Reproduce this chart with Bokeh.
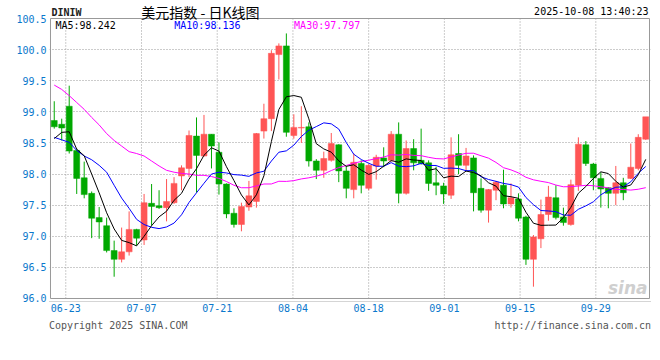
from bokeh.plotting import figure
from bokeh.models import (ColumnDataSource, FixedTicker, Label, Range1d,
                          PrintfTickFormatter)
from bokeh.embed import file_html
from bokeh.resources import INLINE

# ---------------- data ----------------
opens = [98.86, 98.80, 99.09, 98.38, 97.94, 97.69, 97.30, 97.17, 96.77, 96.63,
         96.75, 97.11, 96.94, 97.53, 97.49, 97.46, 97.54, 97.97, 98.09, 98.61,
         98.29, 98.64, 98.35, 97.84, 97.37, 97.19, 97.47, 97.56, 98.69, 98.89,
         99.92, 100.06, 98.62, 98.74, 98.76, 98.21, 98.06, 98.22, 98.47, 98.05,
         97.75, 98.17, 97.77, 98.13, 98.26, 98.22, 98.64, 97.69, 98.41, 98.22,
         98.18, 97.86, 97.81, 97.66, 98.33, 98.14, 98.26, 97.77, 97.42, 97.74,
         97.82, 97.52, 97.60, 97.31, 96.63, 96.96, 97.35, 97.62, 97.31, 97.19,
         97.82, 98.47, 98.16, 97.93, 97.78, 97.69, 97.86, 97.93, 98.09, 98.56]
highs = [99.17, 98.89, 99.42, 98.41, 98.20, 97.72, 97.47, 97.30, 96.93, 97.14,
         97.40, 97.12, 97.68, 97.84, 97.74, 97.92, 97.95, 98.14, 98.70, 98.91,
         98.95, 98.64, 98.51, 97.85, 97.45, 97.54, 97.89, 98.66, 99.13, 99.99,
         100.10, 100.26, 98.96, 99.09, 98.83, 98.24, 98.36, 98.66, 98.48, 98.13,
         98.33, 98.22, 98.16, 98.31, 98.43, 98.69, 98.83, 98.54, 98.56, 98.73,
         98.22, 98.12, 97.86, 98.59, 98.64, 98.42, 98.30, 97.93, 97.76, 97.89,
         98.07, 97.85, 97.69, 97.33, 97.02, 97.59, 97.81, 97.82, 97.46, 97.91,
         98.59, 98.53, 98.18, 98.03, 97.79, 98.13, 97.94, 98.49, 98.64, 98.91]
lows = [98.73, 98.54, 98.33, 97.68, 97.61, 96.97, 96.96, 96.74, 96.35, 96.58,
        96.69, 96.85, 96.86, 97.17, 97.44, 97.24, 97.52, 97.74, 97.95, 97.70,
        98.28, 98.09, 97.67, 97.29, 97.14, 97.08, 97.41, 97.46, 98.57, 98.69,
        99.52, 98.60, 98.57, 98.50, 98.12, 97.92, 97.94, 98.20, 97.87, 97.61,
        97.61, 97.69, 97.74, 97.91, 98.11, 98.20, 97.53, 97.67, 98.06, 98.15,
        97.73, 97.66, 97.52, 97.60, 98.00, 98.06, 97.40, 97.38, 97.22, 97.58,
        97.45, 97.46, 97.24, 96.54, 96.19, 96.81, 97.25, 97.27, 97.17, 97.17,
        97.73, 98.13, 97.74, 97.46, 97.45, 97.50, 97.58, 97.92, 98.06, 98.55]
closes = [98.76, 98.74, 98.37, 97.93, 97.67, 97.29, 97.23, 96.77, 96.63, 96.75,
          97.11, 96.97, 97.54, 97.48, 97.46, 97.56, 97.85, 98.10, 98.62, 98.30,
          98.64, 98.45, 97.84, 97.36, 97.19, 97.48, 97.65, 98.65, 98.89, 99.94,
          100.06, 98.67, 98.75, 98.75, 98.21, 98.06, 98.25, 98.49, 98.05, 97.77,
          98.19, 97.82, 98.14, 98.27, 98.21, 98.64, 97.69, 98.41, 98.18, 98.17,
          97.85, 97.82, 97.68, 98.31, 98.14, 98.29, 97.70, 97.42, 97.75, 97.87,
          97.52, 97.62, 97.29, 96.63, 96.99, 97.35, 97.63, 97.30, 97.22, 97.83,
          98.48, 98.17, 97.94, 97.76, 97.69, 97.86, 97.70, 98.11, 98.59, 98.92]

ma5_head = [98.57, 98.67, 98.68, 98.40]
ma10_head = [98.59, 98.55, 98.51, 98.38, 98.29, 98.23, 98.14, 98.03, 97.82]
ma30_head = [99.43, 99.36, 99.26, 99.15, 99.04, 98.91, 98.79, 98.65, 98.54, 98.45,
             98.36, 98.33, 98.29, 98.21, 98.13, 98.06, 98.03, 98.01, 98.00, 97.98,
             97.98, 97.96, 97.93, 97.88, 97.82, 97.78, 97.78, 97.81, 97.84]

tick_labels = ["06-23", "07-07", "07-21", "08-04", "08-18", "09-01", "09-15", "09-29"]
tick_slot = [2, 12, 22, 32, 42, 52, 62, 72]   # candle index of each labelled date
y_ticks = [96.0, 96.5, 97.0, 97.5, 98.0, 98.5, 99.0, 99.5, 100.0, 100.5]

ma_texts = ["MA5:98.242", "MA10:98.136", "MA30:97.797"]
title_text = "美元指数 - 日K线图"
code_text = "DINIW"
time_text = "2025-10-08 13:40:23"
copy_text = "Copyright 2025 SINA.COM"
url_text = "http://finance.sina.com.cn"

# ---------------- derived ----------------
n = len(closes)
xs = list(range(n))


def moving(w, head):
    out = list(head)
    for i in range(len(head), n):
        out.append(sum(closes[i - w + 1:i + 1]) / w)
    return out


ma5 = moving(5, ma5_head)
ma10 = moving(10, ma10_head)
ma30 = moving(30, ma30_head)

RED = "#ff5555"
GREEN = "#00a800"
colors = [RED if c >= o else GREEN for o, c in zip(opens, closes)]
src = ColumnDataSource(dict(
    x=xs, o=opens, h=highs, l=lows, c=closes,
    top=[max(o, c) for o, c in zip(opens, closes)],
    bot=[min(o, c) for o, c in zip(opens, closes)],
    color=colors))

PXX = 7.5       # pixels per candle
PXY = 62.22     # pixels per index point
TOP_PAGE = 18   # canvas y of the 100.5 line
BOT_PAGE = 298  # canvas y of the 96.0 line

p = figure(width=660, height=360, output_backend="svg", toolbar_location=None,
           x_range=Range1d(-0.5 - 1 / PXX, n - 0.5 + 1 / PXX),
           y_range=Range1d(y_ticks[0] - 3 / PXY, y_ticks[-1] + TOP_PAGE / PXY),
           min_border_left=49, min_border_right=10, min_border_top=0,
           min_border_bottom=59, title=None)
p.outline_line_color = None
p.background_fill_color = "white"
p.border_fill_color = "white"

AX_BLUE = "#0a78cc"
MONO = "DejaVu Sans Mono"

# y axis
p.yaxis.ticker = FixedTicker(ticks=y_ticks)
p.yaxis.formatter = PrintfTickFormatter(format="%.1f")
p.yaxis.axis_line_color = None
p.yaxis.major_tick_line_color = None
p.yaxis.minor_tick_line_color = None
p.yaxis.major_tick_out = 0
p.yaxis.major_tick_in = 0
p.yaxis.minor_tick_out = 0
p.yaxis.major_label_standoff = 3
p.yaxis.major_label_text_color = AX_BLUE
p.yaxis.major_label_text_font = MONO
p.yaxis.major_label_text_font_size = "10px"

# x axis
xticks = [round(s - 0.46 + (s - tick_slot[0]) * 0.0113, 4) for s in tick_slot]
p.xaxis.ticker = FixedTicker(ticks=xticks)
p.xaxis.major_label_overrides = {t: lab for t, lab in zip(xticks, tick_labels)}
p.xaxis.axis_line_color = "#aaaaaa"
p.xaxis.axis_line_dash = "1 1"
p.xaxis.major_tick_line_color = None
p.xaxis.minor_tick_line_color = None
p.xaxis.major_tick_out = 0
p.xaxis.major_tick_in = 0
p.xaxis.minor_tick_out = 0
p.xaxis.major_label_standoff = 2
p.xaxis.major_label_text_color = AX_BLUE
p.xaxis.major_label_text_font = MONO
p.xaxis.major_label_text_font_size = "10px"
# footer line (monospace, padded with no-break spaces so both ends line up)
footer_chars = 100
p.xaxis.axis_label = (copy_text + "\u00a0" * (footer_chars - len(copy_text) - len(url_text))
                      + url_text)
p.xaxis.axis_label_text_font = MONO
p.xaxis.axis_label_text_font_size = "10px"
p.xaxis.axis_label_text_font_style = "normal"
p.xaxis.axis_label_text_color = "#555555"
p.xaxis.axis_label_standoff = 5

# grids
p.xgrid.visible = False
p.ygrid.ticker = FixedTicker(ticks=y_ticks[1:-1])
p.ygrid.grid_line_color = "#999999"
p.ygrid.grid_line_dash = "1 2"
p.segment(x0=xticks, y0=[y_ticks[0]] * len(xticks), x1=xticks,
          y1=[y_ticks[-1]] * len(xticks), line_color="#999999", line_dash="1 2",
          line_width=1)

# frame
p.quad(left=[-0.5], right=[n - 0.5], bottom=[y_ticks[0]], top=[y_ticks[-1]],
       fill_color=None, line_color="#999999", line_width=1)

# candles
p.segment(x0="x", y0="h", x1="x", y1="l", source=src, color="color", line_width=1)
p.vbar(x="x", top="top", bottom="bot", width=0.8, source=src,
       fill_color="color", line_color="color", line_width=0.5)

# moving averages
p.line(xs, ma30, line_color="#ff00ff", line_width=1)
p.line(xs, ma10, line_color="#0000ff", line_width=1)
p.line(xs, ma5, line_color="black", line_width=1)


def dx(px):
    return (px - 50) / PXX - 0.5


def dy(py):
    return y_ticks[0] + (BOT_PAGE - py) / PXY


def label(txt, px, py, color="black", size="10px", font=MONO, align="left",
          style="normal", baseline="top"):
    p.add_layout(Label(x=dx(px), y=dy(py), text=txt, text_color=color,
                       text_font=font, text_font_size=size, text_align=align,
                       text_baseline=baseline, text_font_style=style))


label(code_text, 51, 6.5, color="#222222", style="bold")
label(title_text, 141, 2, size="14px", font="Noto Sans CJK SC")
label(time_text, 649, 6, align="right")
label(ma_texts[0], 55, 19.5, color="black")
label(ma_texts[1], 174, 19.5, color="#0000ff")
label(ma_texts[2], 294, 19.5, color="#ff00ff")
label("sina", 648, 298, color="#cfcfcf", size="17px", font="DejaVu Sans",
      align="right", style="bold italic", baseline="bottom")

open("out.html", "w").write(file_html(p, INLINE))
